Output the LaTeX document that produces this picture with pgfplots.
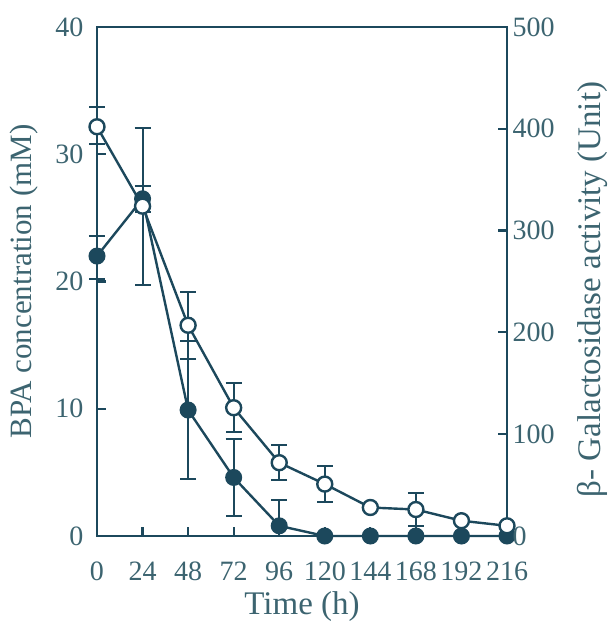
\documentclass[border=0pt]{standalone}
\usepackage{pgfplots}
\pgfplotsset{compat=1.18}
\usepackage{fontspec}
\setmainfont{Liberation Serif}
\definecolor{linecol}{RGB}{28,72,92}
\definecolor{textcol}{RGB}{60,100,112}
\begin{document}
\begin{tikzpicture}
\pgfplotsset{
  common/.style={
    scale only axis, width=410pt, height=509pt,
    xmin=0, xmax=216,
    clip=false,
    axis line style={linecol, line width=2.6pt},
    tick style={linecol, line width=2.2pt},
    major tick length=9pt,
    tick align=inside,
    ticklabel style={textcol, font=\fontsize{28}{28}\selectfont},
    /pgf/number format/assume math mode=true,
  },
  ebar/.style={
    error bars/.cd, y dir=both, y explicit,
    error bar style={linecol, line width=2pt},
    error mark options={rotate=90, mark size=8pt, linecol, line width=2pt},
  },
}
\begin{axis}[common,
  ymin=0, ymax=40, ytick={0,10,20,30,40},
  xtick={0,24,48,72,96,120,144,168,192,216},
  xtick pos=bottom, ytick pos=left,
  xlabel={Time (h)}, ylabel={BPA concentration (mM)},
  xticklabel style={yshift=-22pt, inner xsep=0pt},
  yticklabel style={xshift=-10pt},
  xlabel style={at={([yshift=-71pt]axis description cs:0.5,0)}, anchor=center,
    textcol, font=\fontsize{33}{33}\selectfont},
  ylabel style={at={([xshift=-73pt]axis description cs:0,0.5)}, anchor=center,
    textcol, font=\fontsize{31}{31}\selectfont},
]
\addplot[linecol, line width=2.4pt, mark=*, mark size=7.5pt,
  mark options={fill=linecol, draw=linecol, line width=2pt}, ebar]
  table[x=t, y=c, y error plus=ep, y error minus=em] {
t c ep em
0 22.0 1.6 1.8
24 26.5 1.0 1.0
48 9.9 5.4 5.4
72 4.6 3.0 3.0
96 0.8 2.0 0.8
120 0 0 0
144 0 0 0
168 0 0 0
192 0 0 0
216 0 0 0
};
\end{axis}
\begin{axis}[common,
  ymin=0, ymax=500, ytick={0,100,200,300,400,500},
  axis y line*=right, axis x line=none,
  ylabel={β- Galactosidase activity (Unit)},
  ylabel style={at={([xshift=85pt,yshift=-8pt]axis description cs:1,0.5)}, anchor=center,
    textcol, font=\fontsize{33}{33}\selectfont},
  yticklabel style={xshift=2pt},
]
\addplot[linecol, line width=2.4pt, mark=*, mark size=7.5pt,
  mark options={fill=white, draw=linecol, line width=2.4pt}, ebar]
  table[x=t, y=a, y error plus=ep, y error minus=em] {
t a ep em
0 402 19 17
24 324 77 77
48 207 33 33
72 126 24 24
96 72 17 17
120 51 18 18
144 28 0 0
168 26 16 16
192 15 0 0
216 10 0 0
};
\end{axis}
\path[use as bounding box] (current axis.south west) ++(-97pt,-91pt) rectangle ([xshift=100pt,yshift=27pt]current axis.north east);
\end{tikzpicture}
\end{document}
